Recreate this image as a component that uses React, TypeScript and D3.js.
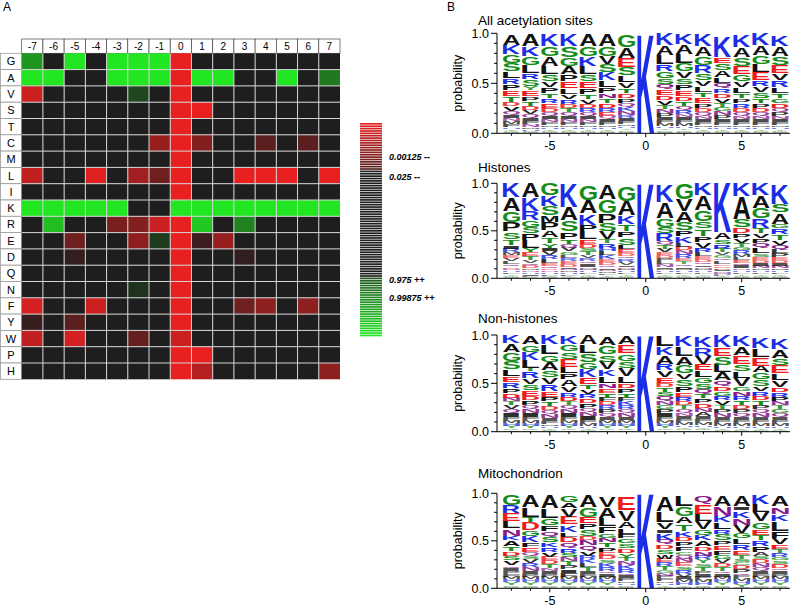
import React, { useMemo } from "react";
import * as d3 from "d3";

// ---------- panel A: heatmap ----------
const positions = [-7, -6, -5, -4, -3, -2, -1, 0, 1, 2, 3, 4, 5, 6, 7];
const residues = ["G", "A", "V", "S", "T", "C", "M", "L", "I", "K", "R", "E", "D", "Q", "N", "F", "Y", "W", "P", "H"];

// +1 = strongly over-represented (red), -1 = strongly under-represented (green)
const heatValues = [
  [-0.6, 0, -1, 0, -1, -1, -1, 1, 0, 0, 0, 0, 0, 0, 0],
  [-1, -1, 0, 0, -1, -1, -1, 1, -1, -1, 0, 0, -1, 0, -0.45],
  [0.85, 0, 0, 0, 0, -0.2, 0, 1, 0, 0, 0, 0, 0, 0, 0],
  [0, 0, 0, 0, 0, 0, 0, 1, 1, 0, 0, 0, 0, 0, 0],
  [0, 0, 0, 0, 0, 0, 0, 1, 0, 0, 0, 0, 0, 0, 0],
  [0, 0, 0, 0, 0, 0, 0.6, 1, 0.5, 0, 0, 0.3, 0, 0.3, 0],
  [0, 0, 0, 0, 0, 0, 0, 1, 0, 0, 0, 0, 0, 0, 0],
  [0.8, 0, 0, 0.95, 0, 0.65, 0.4, 1, 0, 0, 1, 1, 1, 0, 1],
  [0, 0, 0, 0, 0, 0, 0, 1, 0, 0, 0, 0, 0, 0, 0],
  [-1, -1, -1, -1, -1, 0, 0, -1, -1, -1, -1, -1, -1, -1, -1],
  [0, -0.8, 0, 0, 0.45, 0.5, 0.85, 1, -0.85, 0, -0.5, 0, 0, 0, 0],
  [0, 0, 0.4, 0, 0, 0.55, -0.15, 1, 0.15, 0.6, 0, 0, 0, 0, 0],
  [0, 0, 0.1, 0, 0, 0, 0, 1, 0, 0, 0.1, 0, 0, 0, 0],
  [0, 0, 0, 0, 0, 0, 0, 1, 0, 0, 0, 0, 0, 0, 0],
  [0, 0, 0, 0, 0, -0.1, 0, 1, 0, 0, 0, 0, 0, 0, 0],
  [0.9, 0, 0, 0.85, 0, 0, 0, 1, 0, 0, 0.4, 0.55, 0, 0.55, 0],
  [0.12, 0, 0.3, 0, 0, 0, 0, 1, 0, 0, 0, 0, 0, 0, 0],
  [0.8, 0, 0.9, 0, 0, 0.35, 0, 0.85, 0, 0, 0, 0, 0, 0, 0],
  [0, 0, 0, 0, 0, 0, 0, 1, 1, 0, 0, 0, 0, 0, 0],
  [0, 0, 0, 0, 0, 0, 0, 1, 0.75, 0, 0, 0, 0, 0, 0.55],
];

const legendLabels = ["0.00125 --", "0.025 --", "0.975 ++", "0.99875 ++"];
const legendLabelY = [160, 180, 283, 301];

// ---------- panel B: sequence logos (percent, listed top -> bottom) ----------
const allSites = [
  "A11 K9 G9 S8 L7 R6 P6 E6 T6 D4 V5 Q4 I3 N3 M3 F3 H2 Y2 C1 W1",
  "A12 K10 G9 L8 R6 S7 Y4 E6 P5 T5 D4 V4 Q4 I3 F3 N3 M2 H2 C1 W1",
  "K12 G10 A10 L8 S7 V6 P6 T5 R5 E5 D4 Q4 I3 N3 F3 M2 H2 Y2 C1 W1",
  "K12 S11 G9 A8 P7 E7 L6 V5 R5 D4 T4 Q4 I3 N3 F3 M2 H2 Y2 C1 W1",
  "A12 G10 K10 L8 S7 E7 P6 T5 V5 D4 R4 Q4 I3 N3 F3 M2 H2 Y2 C1 W1",
  "A12 G10 V8 S8 K8 L7 P6 N5 T5 D5 R4 E4 Q3 I3 F3 M2 H2 Y2 C1 W1",
  "G12 A11 E9 S8 L7 V6 T5 D5 P5 Q4 K4 N4 R3 I3 F3 M2 H2 Y2 C2 W1",
  "K100",
  "K12 A10 L9 R7 G7 S6 Q5 E6 D5 V5 T4 N4 P4 I3 F3 M3 H2 Y2 C2 W1",
  "K11 A10 L9 G8 V7 S6 P6 E6 D5 T5 Q4 R4 N3 I3 F3 M3 H2 Y2 C2 W1",
  "K12 A10 G9 R8 S7 V6 L6 T5 E6 P5 D4 Q4 N3 I3 F3 M2 H2 Y2 C1 W1",
  "K22 E6 S7 A7 L6 Q5 R5 D5 V5 T4 G4 N4 P4 I3 F3 M2 H2 Y2 C1 W1",
  "K12 A10 S9 E8 G7 V6 L6 T5 P5 R5 D4 Q4 N3 I3 F3 M2 H2 Y2 C1 W1",
  "K12 A10 G9 L8 E8 R6 V6 S6 T5 P5 D4 Q4 N3 I3 F3 M2 H2 Y2 C1 W1",
  "K11 A10 S9 E8 V7 R7 L6 T5 G5 D5 Q4 P4 N3 I3 F3 M2 H2 Y2 C1 W1",
];

const histones = [
  "K15 A14 G12 P10 S8 T6 I4 R4 M3 E3 V3 L3 Q3 D2 N2 H2 F2 Y2 C1 W1",
  "A15 K14 R10 G7 S7 P7 L8 Y5 E4 T4 V3 Q3 D3 M2 N2 H2 I2 F1 C1",
  "G13 K11 S10 M7 P9 A7 T6 Y5 I4 V4 R4 L4 E3 Q3 D2 N2 H2 F2 C1 W1",
  "K25 A14 S12 P8 T5 Q4 V4 G4 L3 R3 E3 D3 I2 N2 M2 H2 F2 Y1 C1",
  "G16 A14 K12 P7 L8 E5 D4 S4 T4 V3 R3 Q3 I3 N2 M2 H2 F2 Y2 C1 W1",
  "A16 G15 P10 S9 V8 T4 R5 H4 L4 K4 E3 D3 Q3 I2 N2 M2 F2 Y2 C1",
  "G16 A15 K9 T8 P6 S8 L5 E4 D3 Q3 R3 V3 I2 N2 M2 H2 F2 Y2 C1 W1",
  "K100",
  "K19 A17 G9 S7 R8 Q4 T4 V4 E3 D3 P3 L3 N3 I2 M2 H2 F2 Y2 C1 W1",
  "G17 V13 A11 S9 P6 K7 L4 D4 N4 R4 E3 T3 Q3 I2 M2 H2 F2 Y2 C1 W1",
  "K13 A15 G12 S8 T8 P6 V6 R5 L4 E3 D3 Q3 I2 N2 M2 H2 F2 Y2 C1 W1",
  "K52 A7 S5 R5 T4 V3 G3 Q3 L3 E2 D2 P2 I2 N2 M1 H1 F1 Y1 C1",
  "K14 A24 S9 D6 P5 V5 T4 G4 R4 M3 L3 E3 Q3 I3 N2 H2 F2 Y2 C1 W1",
  "K13 A13 G11 R10 T6 V5 P5 Q5 L6 S4 E3 D3 I3 N3 M2 H2 F2 Y2 C1 W1",
  "K21 S9 A12 G5 R6 T6 V5 Q5 L4 P4 E3 D3 I3 N3 M2 H2 F2 Y2 C1 W1",
];

const nonHistones = [
  "K9 A9 G9 S9 L7 E6 R6 P5 D5 N4 T4 V4 Q4 I4 F3 M3 H3 Y3 C2 W1",
  "A9 G8 K8 L8 T4 R7 V6 S6 E6 D5 P5 Q4 N4 I4 F3 M3 H3 Y3 C2 W1",
  "K10 L10 G8 A9 S7 V7 R7 E6 P5 T5 D4 Q4 N4 I3 F3 M2 H2 Y2 C1 W1",
  "K8 G7 S8 E8 L7 P6 A7 V6 R5 D5 T4 Q4 N4 I4 F3 M3 H3 Y3 C2 W1",
  "A10 L9 S9 G8 K8 E7 T5 V5 R5 D5 P5 Q4 N4 I4 F3 M3 H2 Y2 C1 W1",
  "A9 G9 S8 V8 K7 L7 N5 E5 T5 F4 D4 R4 P4 Q4 I3 M3 H3 Y3 C2 W1",
  "A9 E9 G8 S8 V8 L7 D5 P5 T5 F4 K4 R4 Q4 N4 I3 M3 H3 Y3 C2 W1",
  "K100",
  "L11 K9 A9 R7 V7 E6 D4 T5 S5 Q5 N4 G4 P4 I4 F3 M3 H3 Y3 C2 W1",
  "K11 L10 A9 G9 V6 S7 P6 E5 R5 D4 T4 Q4 N3 I3 F3 M3 H2 Y2 C2 W1",
  "K11 R9 V8 E7 L7 G6 S6 Q5 T5 P5 D5 N4 A4 I3 F3 M3 H2 Y2 C2 W1",
  "K13 E9 S9 L8 A8 Q6 D5 G5 R5 V5 T4 P4 N4 I3 F3 M3 H2 Y2 C1 W1",
  "K11 A9 E9 S8 L7 V8 G5 N5 R5 T5 D4 P4 Q4 I3 F3 M3 H2 Y2 C1 W1",
  "K11 L9 E9 A7 G7 S7 V5 R5 D5 T5 P4 Q4 N4 I3 F3 M3 H2 Y2 C1 W1",
  "K11 A9 S7 E9 L7 V7 D5 R5 P5 N4 T4 G4 Q4 I3 F3 M3 H2 Y2 C1 W1",
];

const mitochondrion = [
  "G12 R8 E8 L8 N8 K5 A6 T5 D5 S5 V5 Q3 I3 P3 F3 M3 H3 Y3 C2 W1",
  "A13 L10 T6 D8 G6 K7 F5 E5 Q4 S4 V4 R4 N4 I3 P3 M3 H3 Y3 C2 W1",
  "A14 L10 G8 F6 Q6 S6 K5 R5 V5 E4 D4 T4 N3 I3 P3 M3 H3 Y3 C2 W1",
  "G8 A6 V9 E8 K8 L5 D6 Q6 R5 S5 N4 T4 P4 I4 F4 M3 H3 Y3 C2 W1",
  "A13 G10 E7 P6 S7 D4 N6 Q6 V5 R4 K4 L4 T4 I3 F3 M3 H3 Y3 C2 W1",
  "V12 A11 L9 F7 G5 N5 T5 P5 E4 D4 S4 K4 R4 Q3 I3 M3 H3 Y3 C2 W1",
  "E14 V12 A7 L6 F5 G5 S5 D5 Y5 T4 N4 K4 R4 Q3 I3 P3 M2 H2 C2 W1",
  "K100",
  "A16 L12 V7 I4 K7 Q5 D5 S5 W5 E4 R4 T4 G3 N3 P3 F3 M2 H2 Y2 C1",
  "L12 G10 A8 T8 K6 D5 P5 F5 C4 Q4 N4 E4 S4 R4 V3 I3 M3 H3 Y2 W1",
  "Q10 E10 L8 V8 G6 K6 A6 D5 N5 R4 Y4 S4 T4 P3 I3 F3 M3 H3 C2 W1",
  "A12 N10 K7 L7 R5 S7 P5 E5 F5 G5 V4 D4 T4 Q3 I3 M3 H3 Y3 C2 W1",
  "A12 I4 K8 N8 V8 G6 L6 R6 E5 T4 S4 C3 D4 P4 Q3 F3 M3 H3 Y3 W1",
  "K10 L8 V10 G8 E6 T6 R6 P6 A4 S4 D4 N4 Q4 I3 F3 M3 H3 Y3 C2 W1",
  "A12 N8 K8 L10 F7 V7 E5 T4 R4 G4 S4 D4 Q3 I3 P3 M3 H3 Y3 C2 W1",
];

const logoTitles = ["All acetylation sites", "Histones", "Non-histones", "Mitochondrion"];
const logoData = [allSites, histones, nonHistones, mitochondrion];
const logoTop = [33.3, 183.3, 335, 493.3];
const logoBottom = [133.3, 278.3, 431.7, 588.3];
const logoTitleY = [25, 171.5, 323, 478];
const yMajor = [0, 0.5, 1];
const yMinor = [0.1, 0.2, 0.3, 0.4, 0.6, 0.7, 0.8, 0.9];

const FONT = "'Liberation Sans', Arial, Helvetica, sans-serif";

const heatColor = d3.scaleLinear<string>().domain([-1, 0, 1]).range(["#22e622", "#1e1e1e", "#e82020"]);

function aaColor(a: string) {
  if ("KRH".includes(a)) return "#1a2ee6";
  if ("DE".includes(a)) return "#ee1c1c";
  if ("NQ".includes(a)) return "#8a1a8a";
  if ("GSTYC".includes(a)) return "#168c1a";
  return "#111111";
}

type Metric = { l: number; r: number; a: number; d: number };

function useGlyphMetrics() {
  return useMemo(() => {
    const out: Record<string, Metric> = {};
    const ctx = document.createElement("canvas").getContext("2d");
    "ACDEFGHIKLMNPQRSTVWY".split("").forEach((ch) => {
      if (ctx) {
        ctx.font = `bold 100px ${FONT}`;
        const m = ctx.measureText(ch);
        out[ch] = {
          l: m.actualBoundingBoxLeft,
          r: m.actualBoundingBoxRight,
          a: m.actualBoundingBoxAscent,
          d: m.actualBoundingBoxDescent,
        };
      } else {
        out[ch] = { l: 0, r: 70, a: 72, d: 0 };
      }
    });
    return out;
  }, []);
}

function parseStack(s: string) {
  return s.split(" ").map((tok) => ({ aa: tok[0], p: +tok.slice(1) / 100 }));
}

function Heatmap() {
  const x = d3.scaleBand<number>().domain(positions).range([21.7, 340]);
  const y = d3.scaleBand<string>().domain(residues).range([53.3, 379.3]);
  const bw = x.bandwidth();
  const bh = y.bandwidth();

  const nStripes = 90;
  const ly = d3.scaleLinear().domain([0, nStripes]).range([123, 337]);
  const stripeVal = (i: number) => {
    const t = i / (nStripes - 1);
    if (t < 0.22) return 1 - (t / 0.22) * 0.75;
    if (t < 0.72) return 0;
    return -(0.25 + ((t - 0.72) / 0.28) * 0.75);
  };

  return (
    <g>
      <text x={3} y={11} fontSize={12}>A</text>
      {positions.map((p) => (
        <g key={"h" + p}>
          <rect x={x(p)} y={39} width={bw} height={53.3 - 39} fill="#fff" stroke="#444" strokeWidth={0.7} />
          <text x={x(p)! + bw / 2} y={50} fontSize={10} textAnchor="middle">{p}</text>
        </g>
      ))}
      {residues.map((r) => (
        <g key={"r" + r}>
          <rect x={0.5} y={y(r)} width={21.2} height={bh} fill="#fff" stroke="#999" strokeWidth={0.8} />
          <text x={11} y={y(r)! + bh / 2 + 4} fontSize={11} textAnchor="middle">{r}</text>
        </g>
      ))}
      {residues.map((r, i) =>
        positions.map((p, j) => (
          <rect key={r + p} x={x(p)} y={y(r)} width={bw} height={bh} fill={heatColor(heatValues[i][j])} />
        ))
      )}
      {positions.slice(1).map((p) => (
        <line key={"vl" + p} x1={x(p)} x2={x(p)} y1={53.3} y2={379.3} stroke="#d4d4d4" strokeWidth={1} />
      ))}
      {residues.slice(1).map((r) => (
        <line key={"hl" + r} x1={21.7} x2={340} y1={y(r)} y2={y(r)} stroke="#d4d4d4" strokeWidth={1} />
      ))}
      {d3.range(nStripes).map((i) => (
        <rect key={"s" + i} x={360} y={ly(i)} width={22} height={ly(i + 1) - ly(i) - 0.7} fill={heatColor(stripeVal(i))} />
      ))}
      {legendLabels.map((t, i) => (
        <text key={t} x={389} y={legendLabelY[i]} fontSize={9} fontWeight="bold" fontStyle="italic">{t}</text>
      ))}
    </g>
  );
}

function Logo({ idx, metrics }: { idx: number; metrics: Record<string, Metric> }) {
  const x = d3.scaleLinear().domain([-7.75, 7.5]).range([497, 789.7]);
  const y = d3.scaleLinear().domain([0, 1]).range([logoBottom[idx], logoTop[idx]]);
  const w = 17;
  const data = logoData[idx];
  const mid = (logoTop[idx] + logoBottom[idx]) / 2;

  const glyphs: JSX.Element[] = [];
  data.forEach((s, j) => {
    const stack = parseStack(s).reverse();
    let cum = 0;
    stack.forEach((e, k) => {
      const y0 = y(cum + e.p);
      const y1 = y(cum);
      cum += e.p;
      const full = y1 - y0;
      const gap = Math.min(full * 0.22, 0.7);
      const h = full - gap;
      if (h < 0.2) return;
      const m = metrics[e.aa];
      const sx = w / (m.l + m.r);
      const sy = h / (m.a + m.d);
      const x0 = x(positions[j]) - w / 2;
      glyphs.push(
        <text
          key={j + "-" + k}
          transform={`translate(${x0},${y0 + gap / 2}) scale(${sx},${sy}) translate(${m.l},${m.a})`}
          fontSize={100}
          fontWeight="bold"
          fill={aaColor(e.aa)}
          fillOpacity={h < 4 ? 0.4 + h * 0.15 : 1}
        >
          {e.aa}
        </text>
      );
    });
  });

  const yb = logoBottom[idx];
  return (
    <g>
      <text x={478} y={logoTitleY[idx]} fontSize={13.5}>{logoTitles[idx]}</text>
      {glyphs}
      <line x1={497} x2={497} y1={y(1)} y2={yb} stroke="#000" strokeWidth={1} />
      <line x1={497} x2={790} y1={yb} y2={yb} stroke="#000" strokeWidth={1} />
      {yMajor.map((t) => (
        <g key={"yt" + t}>
          <line x1={491} x2={497} y1={y(t)} y2={y(t)} stroke="#000" />
          <text x={489} y={y(t) + 4.5} fontSize={12.5} textAnchor="end">{t.toFixed(1)}</text>
        </g>
      ))}
      {yMinor.map((t) => (
        <line key={"ym" + t} x1={494} x2={497} y1={y(t)} y2={y(t)} stroke="#000" />
      ))}
      {positions.map((p) => (
        <line key={"xt" + p} x1={x(p)} x2={x(p)} y1={yb} y2={yb + (p % 5 === 0 ? 4 : 2.5)} stroke="#000" />
      ))}
      {[-5, 0, 5].map((p) => (
        <text key={"xl" + p} x={x(p)} y={yb + 17} fontSize={12.5} textAnchor="middle">{p}</text>
      ))}
      <text transform={`translate(462,${mid}) rotate(-90)`} fontSize={12.5} textAnchor="middle">probability</text>
    </g>
  );
}

export default function App() {
  const metrics = useGlyphMetrics();
  return (
    <svg
      width={792}
      height={609}
      style={{ position: "absolute", left: 0, top: 0, background: "#fff" }}
      fontFamily={FONT}
    >
      <Heatmap />
      <text x={447} y={11} fontSize={12}>B</text>
      {logoData.map((_, i) => (
        <Logo key={i} idx={i} metrics={metrics} />
      ))}
    </svg>
  );
}
